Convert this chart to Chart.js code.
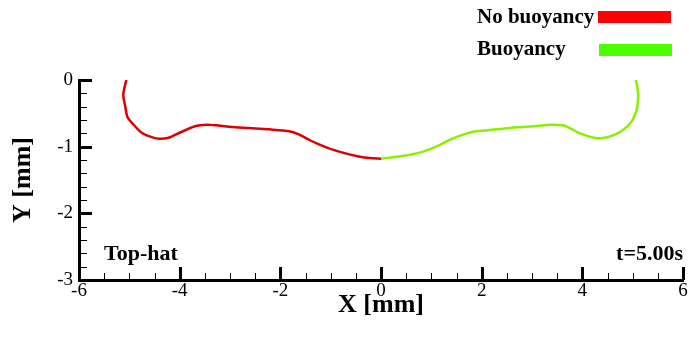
<!DOCTYPE html>
<html>
<head>
<meta charset="utf-8">
<script src="https://cdn.jsdelivr.net/npm/chart.js@4.4.1/dist/chart.umd.min.js"></script>
<style>
  html, body { margin: 0; padding: 0; background: #fff; }
  #wrap { width: 689px; height: 345px; }
</style>
</head>
<body>
<div id="wrap"><canvas id="c" width="689" height="345"></canvas></div>
<script>
// Interface profile at t = 5.00 s, top-hat case (coordinates in mm)
const noBuoyancyX = [-5.06, -5.12, -5.08, -5.04, -4.94, -4.74, -4.54, -4.41, -4.24, -4.08, -3.88, -3.68, -3.48, -3.28, -3.01, -2.62, -2.22, -1.82, -1.62, -1.42, -1.22, -1.02, -0.76, -0.49, -0.23, 0.00];
const noBuoyancyY = [0.00, -0.22, -0.40, -0.55, -0.65, -0.80, -0.86, -0.88, -0.87, -0.82, -0.75, -0.69, -0.67, -0.68, -0.70, -0.72, -0.74, -0.77, -0.82, -0.90, -0.97, -1.03, -1.09, -1.14, -1.17, -1.18];

const buoyancyX = [0.00, 0.43, 0.77, 1.10, 1.36, 1.63, 1.89, 2.29, 2.69, 3.09, 3.35, 3.62, 3.75, 3.95, 4.25, 4.41, 4.61, 4.81, 4.98, 5.08, 5.10, 5.11, 5.08, 5.06];
const buoyancyY = [-1.18, -1.14, -1.09, -1.00, -0.90, -0.82, -0.77, -0.74, -0.71, -0.69, -0.67, -0.68, -0.72, -0.80, -0.87, -0.87, -0.83, -0.75, -0.62, -0.45, -0.35, -0.22, -0.05, 0.00];

const seriesNames = ['No buoyancy', 'Buoyancy'];
const xTicks = [-6, -4, -2, 0, 2, 4, 6];
const yTicks = [0, -1, -2, -3];
const xMinorStep = 0.5;
const yMinorStep = 0.2;
const caseLabel = 'Top-hat';
const timeLabel = 't=5.00s';

const serif = '"Liberation Serif", "Times New Roman", serif';

function pts(xs, ys) { return xs.map((x, i) => ({ x: x, y: ys[i] })); }

// Inward major/minor tick marks, legend swatches and annotations
const decor = {
  id: 'decor',
  afterDraw(chart) {
    const ctx = chart.ctx;
    const xs = chart.scales.x, ys = chart.scales.y;
    const left = xs.left, bottom = ys.bottom;
    ctx.save();
    ctx.strokeStyle = '#000';
    // y ticks
    for (let v = 0; v >= -3 - 1e-9; v -= yMinorStep) {
      const major = Math.abs(v - Math.round(v)) < 1e-6;
      const py = Math.round(ys.getPixelForValue(v)) + 0.5;
      ctx.lineWidth = major ? 3 : 1;
      ctx.beginPath();
      ctx.moveTo(left, py);
      ctx.lineTo(left + (major ? 13 : 8), py);
      ctx.stroke();
    }
    // x ticks
    for (let v = -6; v <= 6 + 1e-9; v += xMinorStep) {
      const major = Math.abs(v / 2 - Math.round(v / 2)) < 1e-6;
      const px = Math.round(xs.getPixelForValue(v)) + 0.5;
      ctx.lineWidth = major ? 3 : 1;
      ctx.beginPath();
      ctx.moveTo(px, bottom);
      ctx.lineTo(px, bottom - (major ? 13 : 7));
      ctx.stroke();
    }
    // legend
    ctx.fillStyle = '#000';
    ctx.font = 'bold 21px ' + serif;
    ctx.textBaseline = 'alphabetic';
    ctx.textAlign = 'left';
    ctx.fillText(seriesNames[0], 477, 23);
    ctx.fillText(seriesNames[1], 477, 55);
    ctx.fillStyle = '#ff0000';
    ctx.fillRect(598, 11, 73, 12);
    ctx.fillStyle = '#4cff00';
    ctx.fillRect(599, 44, 73, 12);
    // annotations
    ctx.fillStyle = '#000';
    ctx.font = 'bold 22px ' + serif;
    ctx.fillText(caseLabel, 104, 260);
    ctx.textAlign = 'right';
    ctx.fillText(timeLabel, 683, 260);
    ctx.restore();
  }
};

new Chart(document.getElementById('c'), {
  type: 'scatter',
  data: {
    datasets: [
      {
        label: seriesNames[0],
        data: pts(noBuoyancyX, noBuoyancyY),
        showLine: true,
        borderColor: '#dd0000',
        borderWidth: 2.5,
        pointRadius: 0,
        tension: 0.3,
        fill: false
      },
      {
        label: seriesNames[1],
        data: pts(buoyancyX, buoyancyY),
        showLine: true,
        borderColor: '#88f000',
        borderWidth: 2.5,
        pointRadius: 0,
        tension: 0.3,
        fill: false
      }
    ]
  },
  options: {
    responsive: false,
    animation: false,
    layout: { padding: { top: 80, right: 6, left: 0, bottom: 0 } },
    plugins: { legend: { display: false }, tooltip: { enabled: false } },
    scales: {
      x: {
        type: 'linear',
        min: -6, max: 6,
        afterBuildTicks(scale) { scale.ticks = xTicks.map(v => ({ value: v })); },
        afterFit(scale) { scale.height = 65; },
        grid: { display: true, drawOnChartArea: false, drawTicks: false },
        border: { display: true, color: '#000', width: 3 },
        ticks: { color: '#000', font: { family: serif, size: 19 }, padding: 0, maxRotation: 0 },
        title: { display: true, text: 'X [mm]', color: '#000', font: { family: serif, size: 26, weight: 'bold' }, padding: { top: 0, bottom: 24 } }
      },
      y: {
        type: 'linear',
        min: -3, max: 0,
        afterBuildTicks(scale) { scale.ticks = yTicks.map(v => ({ value: v })); },
        afterFit(scale) { scale.width = 79; },
        grid: { display: true, drawOnChartArea: false, drawTicks: false },
        border: { display: true, color: '#000', width: 3 },
        ticks: { color: '#000', font: { family: serif, size: 19 }, padding: 6 },
        title: { display: true, text: 'Y [mm]', color: '#000', font: { family: serif, size: 26, weight: 'bold' }, padding: { top: 8, bottom: 0 } }
      }
    }
  },
  plugins: [decor]
});
</script>
</body>
</html>
